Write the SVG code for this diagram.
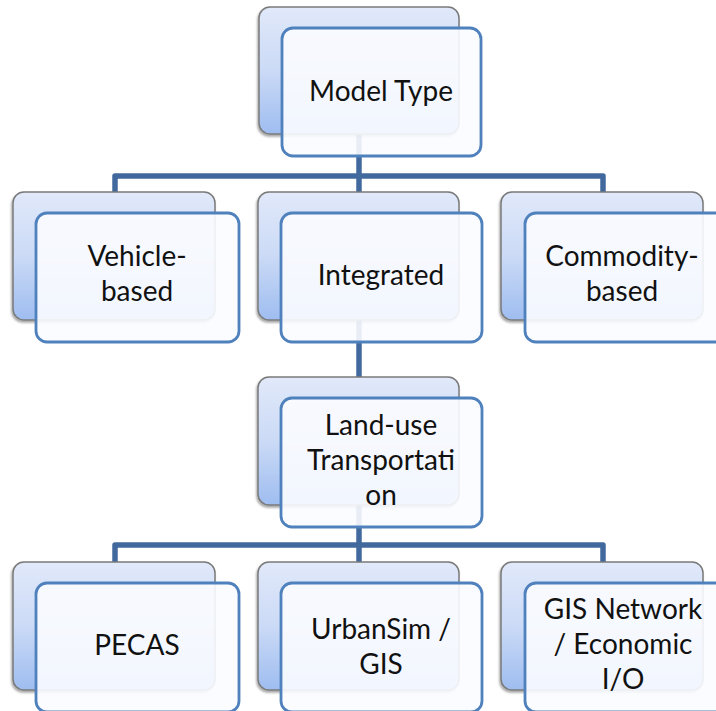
<svg xmlns="http://www.w3.org/2000/svg" width="716" height="711" viewBox="0 0 716 711">
<defs>
<linearGradient id="bg" x1="0" y1="0" x2="0" y2="1">
<stop offset="0" stop-color="#E1E9FA"/>
<stop offset="0.5" stop-color="#CBDAF6"/>
<stop offset="1" stop-color="#9EBDF0"/>
</linearGradient>
<filter id="sh" x="-10%" y="-10%" width="120%" height="120%">
<feDropShadow dx="-1" dy="2" stdDeviation="1.2" flood-color="#000" flood-opacity="0.35"/>
</filter>
</defs>
<style>
.back{fill:url(#bg);stroke:#7A7A7A;stroke-width:1.5;filter:url(#sh)}
.front{fill:#FBFCFF;fill-opacity:0.9;stroke:#4F81BD;stroke-width:2.8}
.conn{fill:none;stroke:#41699E;stroke-width:5.5;stroke-linejoin:round}
text{font-family:Lato,"Open Sans","Liberation Sans",sans-serif;font-size:28px;fill:#111;text-anchor:middle}
</style>
<rect width="716" height="711" fill="#fff"/>
<g id="connectors">
<path class="conn" d="M359 133 V176 M115 193 V176 H603 V193 M359 176 V193"/>
<path class="conn" d="M359 318 V378"/>
<path class="conn" d="M359 503 V545 M115 563 V545 H603 V563 M359 545 V563"/>
</g>
<g id="model-type">
<rect class="back" x="259" y="7" width="200" height="127" rx="11"/>
<rect class="front" x="282" y="28" width="199" height="128" rx="11"/>
<text x="381" y="101">Model Type</text>
</g>
<g id="vehicle-based">
<rect class="back" x="13" y="192" width="202" height="128" rx="11"/>
<rect class="front" x="36" y="213" width="203" height="129" rx="11"/>
<text x="137" y="266">Vehicle-</text>
<text x="137" y="301">based</text>
</g>
<g id="integrated">
<rect class="back" x="258" y="192" width="201" height="128" rx="11"/>
<rect class="front" x="281" y="213" width="201" height="129" rx="11"/>
<text x="381" y="285">Integrated</text>
</g>
<g id="commodity-based">
<rect class="back" x="501" y="192" width="202" height="128" rx="11"/>
<rect class="front" x="525" y="213" width="203" height="129" rx="11"/>
<text x="622" y="266">Commodity-</text>
<text x="622" y="301">based</text>
</g>
<g id="land-use-transportation">
<rect class="back" x="258" y="377" width="201" height="128" rx="11"/>
<rect class="front" x="281" y="398" width="201" height="129" rx="11"/>
<text x="381" y="435">Land-use</text>
<text x="381" y="470">Transportati</text>
<text x="381" y="505">on</text>
</g>
<g id="pecas">
<rect class="back" x="13" y="562" width="202" height="128" rx="11"/>
<rect class="front" x="36" y="583" width="203" height="129" rx="11"/>
<text x="137" y="655">PECAS</text>
</g>
<g id="urbansim-gis">
<rect class="back" x="258" y="562" width="201" height="128" rx="11"/>
<rect class="front" x="281" y="583" width="201" height="129" rx="11"/>
<text x="381" y="639">UrbanSim /</text>
<text x="381" y="674">GIS</text>
</g>
<g id="gis-network">
<rect class="back" x="501" y="562" width="202" height="128" rx="11"/>
<rect class="front" x="525" y="583" width="203" height="129" rx="11"/>
<text x="623" y="619">GIS Network</text>
<text x="623" y="654">/ Economic</text>
<text x="623" y="689">I/O</text>
</g>
</svg>
